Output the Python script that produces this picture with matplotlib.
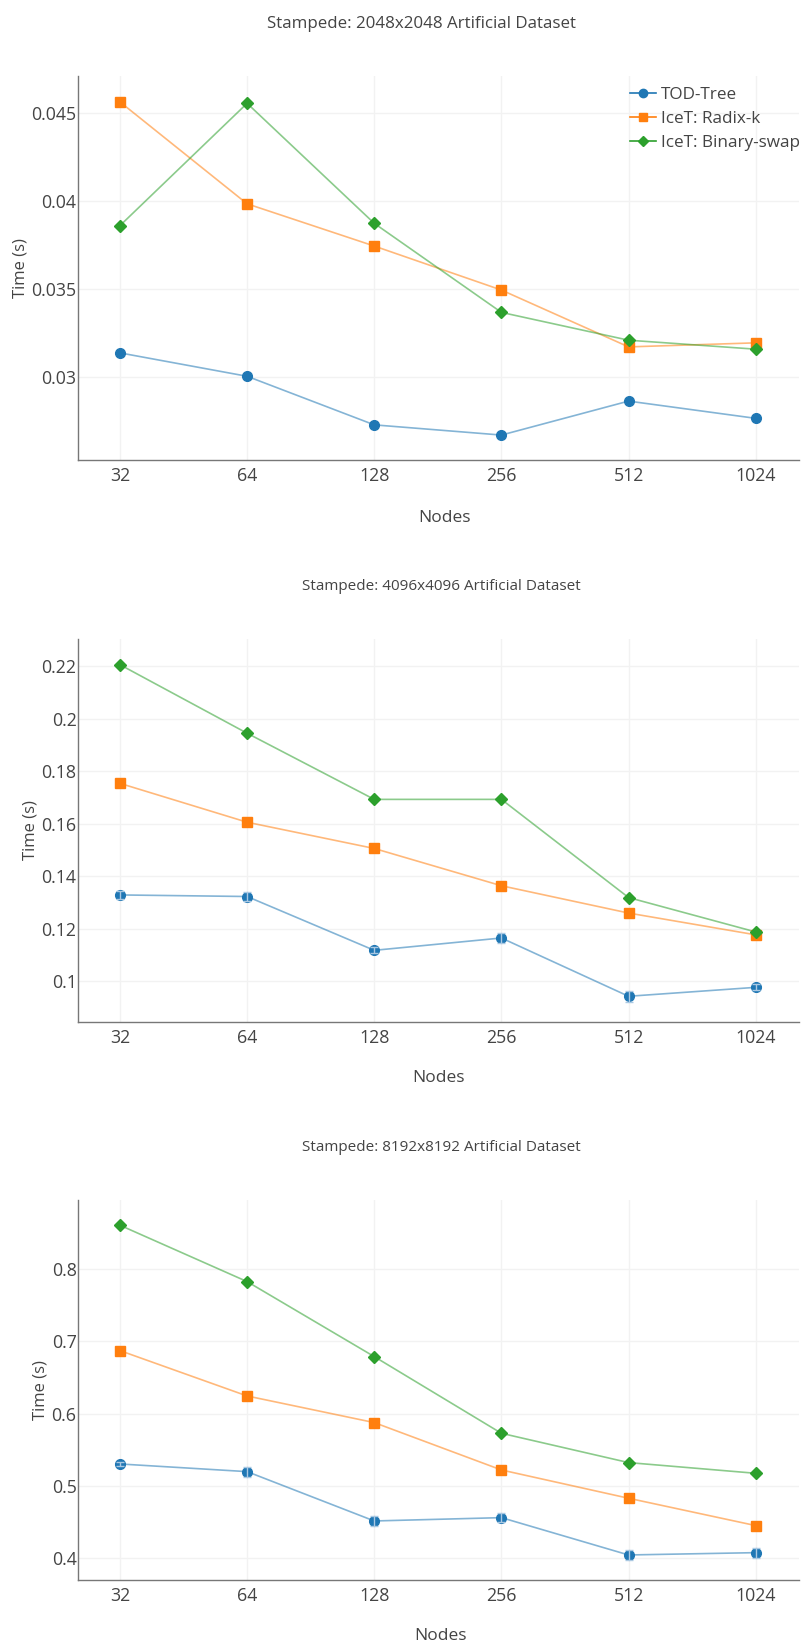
import numpy as np
import matplotlib
matplotlib.use('Agg')
import matplotlib.pyplot as plt
from matplotlib.lines import Line2D

plt.rcParams['font.family'] = ['Open Sans', 'DejaVu Sans']

# data
nodes = ['32', '64', '128', '256', '512', '1024']
series_names = ['TOD-Tree', 'IceT: Radix-k', 'IceT: Binary-swap']

titles = ['Stampede: 2048x2048 Artificial Dataset',
          'Stampede: 4096x4096 Artificial Dataset',
          'Stampede: 8192x8192 Artificial Dataset']

tod_2048 = [0.03137, 0.03004, 0.02728, 0.02670, 0.02863, 0.02765]
radix_2048 = [0.04563, 0.03984, 0.03744, 0.03494, 0.03171, 0.03194]
binary_2048 = [0.03860, 0.04555, 0.03873, 0.03367, 0.03209, 0.03158]

tod_4096 = [0.1329, 0.1323, 0.1118, 0.1165, 0.0943, 0.0977]
radix_4096 = [0.1754, 0.1606, 0.1506, 0.1364, 0.1260, 0.1177]
binary_4096 = [0.2206, 0.1945, 0.1693, 0.1693, 0.1319, 0.1188]

tod_8192 = [0.5304, 0.5198, 0.4516, 0.4562, 0.4046, 0.4078]
radix_8192 = [0.6871, 0.6244, 0.5876, 0.5221, 0.4830, 0.4452]
binary_8192 = [0.8604, 0.7825, 0.6788, 0.5728, 0.5323, 0.5175]

# small error bars on the TOD-Tree points
tod_err_2048 = [0, 0, 0, 0, 0, 0]
tod_err_4096 = [0.0015, 0.0018, 0.0012, 0.0018, 0.002, 0.0012]
tod_err_8192 = [0.003, 0.007, 0.007, 0.006, 0.007, 0.007]

yticks = [[0.03, 0.035, 0.04, 0.045], [0.1, 0.12, 0.14, 0.16, 0.18, 0.2, 0.22], [0.4, 0.5, 0.6, 0.7, 0.8]]
yticklabels = [['0.03', '0.035', '0.04', '0.045'], ['0.1', '0.12', '0.14', '0.16', '0.18', '0.2', '0.22'],
               ['0.4', '0.5', '0.6', '0.7', '0.8']]
ylims = [(0.02528, 0.0471), (0.0845, 0.2304), (0.370, 0.8954)]

data = [[tod_2048, radix_2048, binary_2048],
        [tod_4096, radix_4096, binary_4096],
        [tod_8192, radix_8192, binary_8192]]
errs = [tod_err_2048, tod_err_4096, tod_err_8192]

colors = ['#1f77b4', '#ff7f0e', '#2ca02c']
markers = ['o', 's', 'D']
msizes = [7, 6.5, 6.5]

# axes rectangles [left, bottom, width, height] in figure fraction
rects = [[0.0964, 0.7205, 0.8912, 0.2333],
         [0.0964, 0.3791, 0.8912, 0.2327],
         [0.0964, 0.0401, 0.8912, 0.2309]]
title_x = [0.521, 0.545, 0.545]
title_y = [0.9854, 0.6434, 0.3026]
title_size = [12.2, 11, 11]
xlabel_x = [0.549, 0.542, 0.544]
xlabel_y = [0.685, 0.345, 0.006]

fig = plt.figure(figsize=(8.09, 16.46), dpi=100)
x = np.arange(len(nodes))

for i in range(3):
    ax = fig.add_axes(rects[i])
    for j in range(3):
        ax.plot(x, data[i][j], color=colors[j], alpha=0.55, lw=1.2, zorder=2)
        ax.plot(x, data[i][j], color=colors[j], marker=markers[j], ms=msizes[j],
                ls='none', zorder=3, label=series_names[j])
    if max(errs[i]) > 0:
        ax.errorbar(x, data[i][0], yerr=errs[i], fmt='none', ecolor='#a9c8e2',
                    elinewidth=1, capsize=3, capthick=1, zorder=4)
    ax.set_xlim(-0.33, 5.34)
    ax.set_ylim(*ylims[i])
    ax.set_xticks(x)
    ax.set_xticklabels(nodes)
    ax.set_yticks(yticks[i])
    ax.set_yticklabels(yticklabels[i])
    ax.tick_params(length=0, labelsize=12.8, colors='#444444', pad=5)
    ax.tick_params(axis='y', pad=1)
    ax.grid(color='#f2f2f2', lw=1)
    for s in ['top', 'right']:
        ax.spines[s].set_visible(False)
    for s in ['left', 'bottom']:
        ax.spines[s].set_color('#777777')
        ax.spines[s].set_linewidth(1)
    ax.set_ylabel('Time (s)', fontsize=12, color='#444444', labelpad=2)
    fig.text(title_x[i], title_y[i], titles[i], ha='center', va='center',
             fontsize=title_size[i], color='#444444')
    fig.text(xlabel_x[i], xlabel_y[i], 'Nodes', ha='center', va='center',
             fontsize=12.5, color='#444444')
    if i == 0:
        handles = [Line2D([0], [0], color=colors[j], marker=markers[j], ms=msizes[j] - 1,
                          lw=1.2) for j in range(3)]
        fig.legend(handles, series_names, loc='upper left', bbox_to_anchor=(0.779, 0.947),
                   frameon=False, fontsize=12.3, handlelength=1.5, handletextpad=0.3,
                   labelspacing=0.45, labelcolor='#444444', borderaxespad=0, borderpad=0)

fig.savefig('out.png', dpi=100)
